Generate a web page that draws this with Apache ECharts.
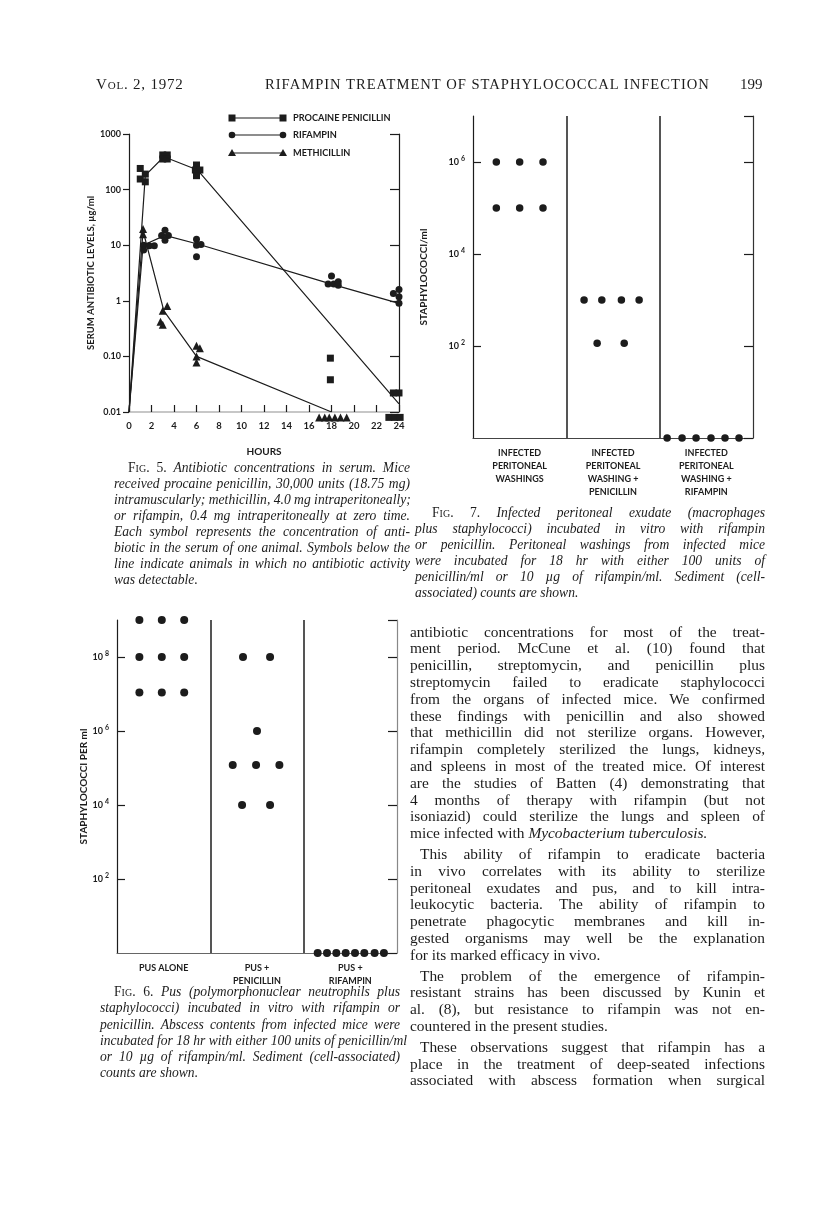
<!DOCTYPE html>
<html>
<head>
<meta charset="utf-8">
<script src="https://cdn.jsdelivr.net/npm/echarts@6.0.0/dist/echarts.min.js"></script>
<style>
  body { margin: 0; background: #fff; }
  #page { position: relative; width: 816px; height: 1225px; overflow: hidden; }
  #main { position: absolute; left: 0; top: 0; width: 816px; height: 1225px; }
  .txt { position: absolute; font-family: 'Liberation Serif', serif; color: #1c1c1c; }
  .txt div { white-space: nowrap; }
  .j { text-align: justify; text-align-last: justify; }
  .cap { font-size: 13.6px; line-height: 16px; font-style: italic; }
  .sc { font-style: normal; font-variant: small-caps; }
  .up { font-style: normal; }
  .body { font-size: 15.4px; line-height: 16.8px; }
  .p { margin-top: 4px; }
</style>
</head>
<body>
<div id="page">
  <div id="main"></div>

  <div class="txt" style="left:96px; top:76px; font-size:15px; letter-spacing:0.8px;"><span style="font-variant:small-caps">Vol</span>. 2, 1972</div>
  <div class="txt" style="left:265px; top:76px; font-size:14.6px; letter-spacing:1px;">RIFAMPIN TREATMENT OF STAPHYLOCOCCAL INFECTION</div>
  <div class="txt" style="left:740px; top:76px; font-size:15px;">199</div>

  <div class="txt cap" style="left:114px; top:460px; width:296px;">
    <div class="j" style="padding-left:14px;"><span class="sc">Fig</span><span class="up">. 5.</span> Antibiotic concentrations in serum. Mice</div>
    <div class="j">received procaine penicillin, 30,000 units (18.75 mg)</div>
    <div class="j">intramuscularly; methicillin, 4.0 mg intraperitoneally;</div>
    <div class="j">or rifampin, 0.4 mg intraperitoneally at zero time.</div>
    <div class="j">Each symbol represents the concentration of anti-</div>
    <div class="j">biotic in the serum of one animal. Symbols below the</div>
    <div class="j">line indicate animals in which no antibiotic activity</div>
    <div>was detectable.</div>
  </div>

  <div class="txt cap" style="left:415px; top:505px; width:350px;">
    <div class="j" style="padding-left:17px;"><span class="sc">Fig</span><span class="up">. 7.</span> Infected peritoneal exudate (macrophages</div>
    <div class="j">plus staphylococci) incubated in vitro with rifampin</div>
    <div class="j">or penicillin. Peritoneal washings from infected mice</div>
    <div class="j">were incubated for 18 hr with either 100 units of</div>
    <div class="j">penicillin/ml or 10 µg of rifampin/ml. Sediment (cell-</div>
    <div>associated) counts are shown.</div>
  </div>

  <div class="txt cap" style="left:100px; top:984px; width:300px; line-height:16.3px;">
    <div class="j" style="padding-left:14px;"><span class="sc">Fig</span><span class="up">. 6.</span> Pus (polymorphonuclear neutrophils plus</div>
    <div class="j">staphylococci) incubated in vitro with rifampin or</div>
    <div class="j">penicillin. Abscess contents from infected mice were</div>
    <div class="j">incubated for 18 hr with either 100 units of penicillin/ml</div>
    <div class="j">or 10 µg of rifampin/ml. Sediment (cell-associated)</div>
    <div>counts are shown.</div>
  </div>

  <div class="txt body" style="left:410px; top:623.6px; width:355px;">
    <div class="j">antibiotic concentrations for most of the treat-</div>
    <div class="j">ment period. McCune et al. (10) found that</div>
    <div class="j">penicillin, streptomycin, and penicillin plus</div>
    <div class="j">streptomycin failed to eradicate staphylococci</div>
    <div class="j">from the organs of infected mice. We confirmed</div>
    <div class="j">these findings with penicillin and also showed</div>
    <div class="j">that methicillin did not sterilize organs. However,</div>
    <div class="j">rifampin completely sterilized the lungs, kidneys,</div>
    <div class="j">and spleens in most of the treated mice. Of interest</div>
    <div class="j">are the studies of Batten (4) demonstrating that</div>
    <div class="j">4 months of therapy with rifampin (but not</div>
    <div class="j">isoniazid) could sterilize the lungs and spleen of</div>
    <div>mice infected with <i>Mycobacterium tuberculosis.</i></div>
    <div class="j p" style="padding-left:10px;">This ability of rifampin to eradicate bacteria</div>
    <div class="j">in vivo correlates with its ability to sterilize</div>
    <div class="j">peritoneal exudates and pus, and to kill intra-</div>
    <div class="j">leukocytic bacteria. The ability of rifampin to</div>
    <div class="j">penetrate phagocytic membranes and kill in-</div>
    <div class="j">gested organisms may well be the explanation</div>
    <div>for its marked efficacy in vivo.</div>
    <div class="j p" style="padding-left:10px;">The problem of the emergence of rifampin-</div>
    <div class="j">resistant strains has been discussed by Kunin et</div>
    <div class="j">al. (8), but resistance to rifampin was not en-</div>
    <div>countered in the present studies.</div>
    <div class="j p" style="padding-left:10px;">These observations suggest that rifampin has a</div>
    <div class="j">place in the treatment of deep-seated infections</div>
    <div class="j">associated with abscess formation when surgical</div>
  </div>
</div>

<script>
// Fig. 5 - serum levels (hours, ug/ml); 0.008 = below detection line
var procaineCurve = [[0, 0.01], [1.45, 180], [3.1, 390], [6.1, 225], [24, 0.014]];
var procainePoints = [[1.0, 240], [1.0, 155], [1.45, 190], [1.45, 138], [3.0, 420], [3.4, 420],
  [3.0, 355], [3.4, 355], [6.0, 277], [5.9, 225], [6.3, 225], [6.0, 178], [17.9, 0.093],
  [17.9, 0.038], [23.5, 0.022], [24.0, 0.022], [23.1, 0.008], [23.6, 0.008], [24.1, 0.008]];
var rifampinCurve = [[0, 0.01], [1.25, 10], [3.2, 15], [6.1, 10.5], [18, 2.0], [24, 0.9]];
var rifampinPoints = [[1.3, 10], [1.3, 8.2], [1.8, 9.8], [2.25, 9.8], [3.2, 18.6], [2.9, 15],
  [3.5, 15], [3.2, 12.3], [6.0, 12.8], [6.0, 10], [6.4, 10.3], [6.0, 6.2], [18.0, 2.8],
  [17.7, 2.0], [18.2, 2.0], [18.6, 2.2], [18.6, 1.9], [23.5, 1.36], [24.0, 1.6], [24.0, 1.18], [24.0, 0.9]];
var methicillinCurve = [[0, 0.01], [1.25, 18], [3.1, 0.66], [6.0, 0.1], [18, 0.01]];
var methicillinPoints = [[1.25, 19.5], [1.25, 15.8], [3.4, 0.81], [3.0, 0.66], [2.8, 0.42], [3.0, 0.37],
  [6.0, 0.155], [6.3, 0.14], [6.0, 0.1], [6.0, 0.078], [16.9, 0.008], [17.4, 0.008], [17.8, 0.008],
  [18.3, 0.008], [18.8, 0.008], [19.35, 0.008]];
var fig5Names = ['PROCAINE PENICILLIN', 'RIFAMPIN', 'METHICILLIN'];

// Fig. 7 - peritoneal washings (group position, staphylococci/ml)
var fig7Groups = ['INFECTED\nPERITONEAL\nWASHINGS', 'INFECTED\nPERITONEAL\nWASHING +\nPENICILLIN',
  'INFECTED\nPERITONEAL\nWASHING +\nRIFAMPIN'];
var fig7Counts = [[0.25, 1e6], [0.5, 1e6], [0.75, 1e6], [0.25, 1e5], [0.5, 1e5], [0.75, 1e5],
  [1.19, 1e3], [1.38, 1e3], [1.59, 1e3], [1.78, 1e3], [1.33, 115], [1.62, 115],
  [2.08, 1], [2.24, 1], [2.39, 1], [2.55, 1], [2.7, 1], [2.85, 1]];

// Fig. 6 - pus (group position, staphylococci per ml)
var fig6Groups = ['PUS ALONE', 'PUS +\nPENICILLIN', 'PUS +\nRIFAMPIN'];
var fig6Counts = [[0.24, 1e9], [0.48, 1e9], [0.72, 1e9], [0.24, 1e8], [0.48, 1e8], [0.72, 1e8],
  [0.24, 1.1e7], [0.48, 1.1e7], [0.72, 1.1e7], [1.35, 1e8], [1.64, 1e8], [1.5, 1e6],
  [1.24, 1.2e5], [1.49, 1.2e5], [1.74, 1.2e5], [1.34, 1e4], [1.64, 1e4],
  [2.15, 1], [2.25, 1], [2.35, 1], [2.45, 1], [2.55, 1], [2.65, 1], [2.76, 1], [2.86, 1]];

var ink = '#1c1c1c';
var lab = { fontFamily: 'Lato', fontWeight: 'bold', color: ink };
var dot = { color: ink, opacity: 1 };

function groupLabel(names) {
  return function (v) {
    var i = Math.round(v - 0.5);
    return Math.abs(v - 0.5 - i) < 1e-6 && names[i] ? names[i] : '';
  };
}
function powLabel(v) {
  return '{b|10}{s|' + Math.round(Math.log10(v)) + '}';
}
var powRich = {
  b: { fontFamily: 'Lato', fontWeight: 'bold', fontSize: 9, color: ink },
  s: { fontFamily: 'Lato', fontWeight: 'bold', fontSize: 7, color: ink, padding: [0, 0, 7, 2] }
};

function sideAxis(grid, pos, opt) {
  var a = {
    gridIndex: grid, position: pos, splitLine: { show: false },
    axisLine: { show: true, lineStyle: { color: ink, width: 1.2 } },
    axisTick: { show: true, inside: pos === 'right', length: pos === 'right' ? 9 : 6, lineStyle: { color: ink, width: 1.2 } },
    axisLabel: { show: pos === 'left' }
  };
  return Object.assign(a, opt);
}

// legend rows for fig 5
var legendShapes = ['rect', 'circle', 'triangle'];
var legendY = [118, 135, 153];
var graphics = [];
fig5Names.forEach(function (n, i) {
  var y = legendY[i];
  graphics.push({ type: 'line', shape: { x1: 232, y1: y, x2: 283, y2: y }, style: { stroke: ink, lineWidth: 1.2 } });
  [232, 283].forEach(function (x) {
    if (legendShapes[i] === 'rect') graphics.push({ type: 'rect', shape: { x: x - 3.5, y: y - 3.5, width: 7, height: 7 }, style: { fill: ink } });
    else if (legendShapes[i] === 'circle') graphics.push({ type: 'circle', shape: { cx: x, cy: y, r: 3.3 }, style: { fill: ink } });
    else graphics.push({ type: 'polygon', shape: { points: [[x, y - 4], [x + 4, y + 3], [x - 4, y + 3]] }, style: { fill: ink } });
  });
  graphics.push({ type: 'text', style: { x: 293, y: y, text: n, fill: ink, font: 'bold 9.2px Lato', verticalAlign: 'middle' } });
});

var sepLine = {
  silent: true, symbol: ['none', 'none'], label: { show: false },
  lineStyle: { color: ink, type: 'solid', width: 1.5 },
  data: [{ xAxis: 1 }, { xAxis: 2 }]
};

var myChart = echarts.init(document.getElementById('main'));
var option = {
  animation: false,
  backgroundColor: '#fff',
  graphic: graphics,
  grid: [
    { left: 129, top: 134, width: 270, height: 278 },
    { left: 473, top: 116, width: 280, height: 322 },
    { left: 117, top: 620, width: 280, height: 333 }
  ],
  xAxis: [
    {
      gridIndex: 0, type: 'value', min: 0, max: 24, interval: 2, splitLine: { show: false },
      axisLine: { show: true, onZero: false, lineStyle: { color: '#b5b5b5', width: 1.5 } },
      axisTick: { show: true, inside: true, length: 7, lineStyle: { color: ink, width: 1.2 } },
      axisLabel: Object.assign({ fontSize: 9.5, margin: 9 }, lab),
      name: 'HOURS', nameLocation: 'middle', nameGap: 35,
      nameTextStyle: Object.assign({ fontSize: 10 }, lab)
    },
    {
      gridIndex: 1, type: 'value', min: 0, max: 3, interval: 0.5, splitLine: { show: false },
      axisLine: { show: true, onZero: false, lineStyle: { color: '#444', width: 1.2 } },
      axisTick: { show: false },
      axisLabel: Object.assign({ fontSize: 9, lineHeight: 13, margin: 9, formatter: groupLabel(fig7Groups) }, lab)
    },
    {
      gridIndex: 2, type: 'value', min: 0, max: 3, interval: 0.5, splitLine: { show: false },
      axisLine: { show: true, onZero: false, lineStyle: { color: '#666', width: 1.2 } },
      axisTick: { show: false },
      axisLabel: Object.assign({ fontSize: 9, lineHeight: 13, margin: 9, formatter: groupLabel(fig6Groups) }, lab)
    }
  ],
  yAxis: [
    sideAxis(0, 'left', {
      type: 'log', logBase: 10, min: 0.01, max: 1000,
      axisLabel: Object.assign({ fontSize: 9, margin: 8, formatter: function (v) { return v >= 1 ? String(Math.round(v)) : v.toFixed(2); } }, lab),
      name: 'SERUM ANTIBIOTIC LEVELS, µg/ml', nameLocation: 'middle', nameGap: 31,
      nameTextStyle: Object.assign({ fontSize: 9.5 }, lab)
    }),
    sideAxis(0, 'right', { type: 'log', logBase: 10, min: 0.01, max: 1000 }),
    sideAxis(1, 'left', {
      type: 'log', logBase: 100, min: 1, max: 1e7,
      axisTick: { show: true, inside: true, length: 8, lineStyle: { color: ink, width: 1.2 } },
      axisLabel: { show: true, margin: 8, showMinLabel: false, showMaxLabel: false, formatter: powLabel, rich: powRich },
      name: 'STAPHYLOCOCCI/ml', nameLocation: 'middle', nameGap: 44,
      nameTextStyle: Object.assign({ fontSize: 10 }, lab)
    }),
    sideAxis(1, 'right', { type: 'log', logBase: 100, min: 1, max: 1e7, axisLine: { show: true, lineStyle: { color: '#333', width: 1.2 } } }),
    sideAxis(2, 'left', {
      type: 'log', logBase: 100, min: 1, max: 1e9,
      axisTick: { show: true, inside: true, length: 8, lineStyle: { color: ink, width: 1.2 } },
      axisLabel: { show: true, margin: 8, showMinLabel: false, showMaxLabel: false, formatter: powLabel, rich: powRich },
      name: 'STAPHYLOCOCCI PER ml', nameLocation: 'middle', nameGap: 26,
      nameTextStyle: Object.assign({ fontSize: 10 }, lab)
    }),
    sideAxis(2, 'right', { type: 'log', logBase: 100, min: 1, max: 1e9, axisLine: { show: true, lineStyle: { color: '#888', width: 1.2 } } })
  ],
  series: [
    { type: 'line', xAxisIndex: 0, yAxisIndex: 0, data: procaineCurve, symbol: 'none', lineStyle: { color: ink, width: 1.2 } },
    { type: 'line', xAxisIndex: 0, yAxisIndex: 0, data: rifampinCurve, symbol: 'none', lineStyle: { color: ink, width: 1.2 } },
    { type: 'line', xAxisIndex: 0, yAxisIndex: 0, data: methicillinCurve, symbol: 'none', lineStyle: { color: ink, width: 1.2 } },
    { type: 'scatter', name: fig5Names[0], xAxisIndex: 0, yAxisIndex: 0, data: procainePoints, symbol: 'rect', symbolSize: 7, clip: false, itemStyle: dot },
    { type: 'scatter', name: fig5Names[1], xAxisIndex: 0, yAxisIndex: 0, data: rifampinPoints, symbol: 'circle', symbolSize: 7, clip: false, itemStyle: dot },
    { type: 'scatter', name: fig5Names[2], xAxisIndex: 0, yAxisIndex: 0, data: methicillinPoints, symbol: 'triangle', symbolSize: 8, clip: false, itemStyle: dot },
    { type: 'scatter', xAxisIndex: 1, yAxisIndex: 2, data: fig7Counts, symbol: 'circle', symbolSize: 7.5, clip: false, itemStyle: dot, markLine: sepLine },
    { type: 'scatter', xAxisIndex: 2, yAxisIndex: 4, data: fig6Counts, symbol: 'circle', symbolSize: 8, clip: false, itemStyle: dot, markLine: sepLine }
  ]
};
myChart.setOption(option);

window.onresize = function () {
  myChart.resize();
};
</script>
</body>
</html>
